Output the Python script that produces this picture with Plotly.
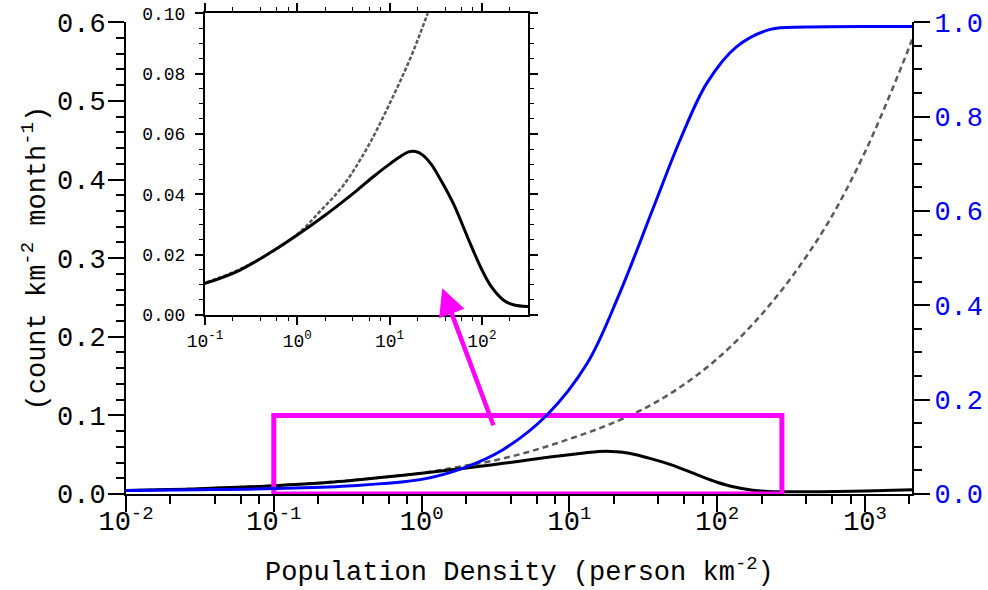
import plotly.graph_objects as go

# ---------------- data ----------------
# black: fire counts (left axis)
black_x = [0.01, 0.0316, 0.1, 0.24, 0.55, 1.0, 1.95, 2.95, 4.47, 6.76, 10, 12.6, 15.8,
           19.1, 22.9, 28.2, 35.5, 49.0, 74.1, 100, 126, 174, 224, 316, 501, 1000, 2080]
black_y = [0.0045, 0.0068, 0.0105, 0.0149, 0.0213, 0.0265, 0.0328, 0.0370, 0.0414,
           0.0460, 0.0500, 0.0522, 0.0540, 0.0542, 0.0530, 0.0500, 0.0450, 0.0370,
           0.0240, 0.0150, 0.0095, 0.0048, 0.0033, 0.0028, 0.0029, 0.0038, 0.0055]

# grey dashed: counts without suppression (left axis)
grey_x = [0.01, 0.0316, 0.1, 0.316, 1.0, 1.78, 3.16, 5.62, 10, 17.8, 31.6, 56.2,
          100, 178, 316, 562, 1000, 1778, 2080]
grey_y = [0.0045, 0.0068, 0.0107, 0.0170, 0.0268, 0.0345, 0.043, 0.055, 0.070,
          0.087, 0.108, 0.136, 0.172, 0.218, 0.275, 0.345, 0.435, 0.545, 0.578]

# blue: suppression fraction (right axis)
blue_x = [0.01, 0.0316, 0.1, 0.316, 1.0, 1.91, 3.55, 7.08, 13.2, 21.9, 37.2, 56.2,
          85.1, 134.9, 229, 398, 2080]
blue_y = [0.0076, 0.009, 0.0115, 0.017, 0.031, 0.055, 0.094, 0.168, 0.277, 0.426,
          0.609, 0.751, 0.871, 0.948, 0.985, 0.990, 0.991]

# zoom window shown in the inset
zoom_x = [0.1, 274]
zoom_y = [0.0, 0.1]

main_xticks = [0.01, 0.1, 1, 10, 100, 1000]
main_xlabels = ["10<sup>-2</sup>", "10<sup>-1</sup>", "10<sup>0</sup>",
                "10<sup>1</sup>", "10<sup>2</sup>", "10<sup>3</sup>"]
inset_xticks = [0.1, 1, 10, 100]
inset_xlabels = ["10<sup>-1</sup>", "10<sup>0</sup>", "10<sup>1</sup>", "10<sup>2</sup>"]

minor_vals = [m * 10 ** e for e in range(-3, 4) for m in (2, 4, 6, 8)]

X_TITLE = "Population Density (person km<sup>-2</sup>)"
Y_TITLE = "(count km<sup>-2</sup> month<sup>-1</sup>)"

FONT = "Liberation Mono"
MAGENTA = "#ff00ff"
GREY = "#5a5a5a"
BLUE = "#0000ff"
FS = 27
FS_IN = 18

fig = go.Figure()

# main traces
fig.add_trace(go.Scatter(x=grey_x, y=grey_y, mode="lines",
                         line=dict(color=GREY, width=2.5, dash="6px,4px", shape="spline"),
                         xaxis="x", yaxis="y", showlegend=False))
fig.add_trace(go.Scatter(x=black_x, y=black_y, mode="lines",
                         line=dict(color="black", width=3, shape="spline"),
                         xaxis="x", yaxis="y", showlegend=False))
fig.add_trace(go.Scatter(x=blue_x, y=blue_y, mode="lines",
                         line=dict(color=BLUE, width=3, shape="spline"),
                         xaxis="x", yaxis="y2", showlegend=False))
# zoom box
fig.add_trace(go.Scatter(x=[zoom_x[0], zoom_x[1], zoom_x[1], zoom_x[0], zoom_x[0]],
                         y=[zoom_y[0], zoom_y[0], zoom_y[1], zoom_y[1], zoom_y[0]],
                         mode="lines", line=dict(color=MAGENTA, width=5), xaxis="x", yaxis="y",
                         showlegend=False, cliponaxis=False))

# inset traces
fig.add_trace(go.Scatter(x=grey_x, y=grey_y, mode="lines",
                         line=dict(color=GREY, width=2.5, dash="4px,2px", shape="spline"),
                         xaxis="x2", yaxis="y3", showlegend=False))
fig.add_trace(go.Scatter(x=black_x, y=black_y, mode="lines",
                         line=dict(color="black", width=3, shape="spline"),
                         xaxis="x2", yaxis="y3", showlegend=False))

W, H = 988, 590
L, R, T, B = 126, 76, 10, 96
pw, ph = W - L - R, H - T - B
ybot = H - B


def fy(py):
    return (ybot - py) / ph


def fx(px):
    return (px - L) / pw


main_top = fy(22.3)

common = dict(showgrid=False, zeroline=False, automargin=False, linecolor="black", tickcolor="black")

fig.update_layout(
    width=W, height=H,
    margin=dict(l=L, r=R, t=T, b=B, autoexpand=False),
    paper_bgcolor="white", plot_bgcolor="rgba(0,0,0,0)",
    font=dict(family=FONT, color="black"),
    xaxis=dict(type="log", range=[-2, 3.318], domain=[0, 1], anchor="y",
               tickmode="array", tickvals=main_xticks, ticktext=main_xlabels,
               ticks="outside", ticklen=16, tickwidth=2,
               showline=True, linewidth=2, tickfont=dict(size=FS), ticklabelstandoff=-14,
               minor=dict(tickmode="array", tickvals=minor_vals, ticks="outside", ticklen=8,
                          tickwidth=1.5, tickcolor="black"),
               **common),
    yaxis=dict(range=[0, 0.6], domain=[0, main_top], anchor="x",
               tickmode="linear", tick0=0, dtick=0.1, tickformat=".1f",
               ticks="outside", ticklen=16, tickwidth=2,
               showline=True, linewidth=2, tickfont=dict(size=FS), ticklabelstandoff=-3,
               minor=dict(dtick=0.02, ticks="outside", ticklen=8, tickwidth=1.5, tickcolor="black"),
               title=dict(text=Y_TITLE, font=dict(size=FS), standoff=4),
               **common),
    yaxis2=dict(range=[0, 1], domain=[0, main_top], anchor="x", overlaying="y", side="right",
                tickmode="linear", tick0=0, dtick=0.2, tickformat=".1f",
                ticks="outside", ticklen=16, tickwidth=2,
                showline=True, linewidth=2, tickfont=dict(size=FS, color=BLUE), ticklabelstandoff=-1,
                minor=dict(dtick=0.05, ticks="outside", ticklen=8, tickwidth=1.5, tickcolor="black"),
                **common),
    xaxis2=dict(type="log", range=[-1, 2.5], domain=[fx(205), fx(528)], anchor="y3",
                tickmode="array", tickvals=inset_xticks, ticktext=inset_xlabels,
                ticks="outside", ticklen=8, tickwidth=1.5,
                showline=True, mirror="ticks", linewidth=2, tickfont=dict(size=FS_IN),
                minor=dict(tickmode="array", tickvals=minor_vals, ticks="outside", ticklen=4,
                           tickwidth=1, tickcolor="black"),
                **common),
    yaxis3=dict(range=[0, 0.1], domain=[fy(315), fy(13.3)], anchor="x2",
                tickmode="linear", tick0=0, dtick=0.02, tickformat=".2f",
                ticks="outside", ticklen=8, tickwidth=1.5,
                showline=True, mirror="ticks", linewidth=2, tickfont=dict(size=FS_IN), ticklabelstandoff=6,
                minor=dict(dtick=0.005, ticks="outside", ticklen=4, tickwidth=1, tickcolor="black"),
                **common),
)

# x-axis title placed as in the reference
fig.add_annotation(x=0.5, y=fy(570), xref="paper", yref="paper", text=X_TITLE,
                   showarrow=False, xanchor="center", yanchor="middle", font=dict(size=FS))

# arrow from the zoom box to the inset
fig.add_annotation(x=fx(442.3), y=fy(288.3), xref="paper", yref="paper",
                   ax=51.7, ay=138.4, axref="pixel", ayref="pixel",
                   text="", showarrow=True, arrowhead=2, arrowsize=1.2, arrowwidth=4.5,
                   arrowcolor=MAGENTA, standoff=0, startstandoff=0)

fig.write_html("out.html")
